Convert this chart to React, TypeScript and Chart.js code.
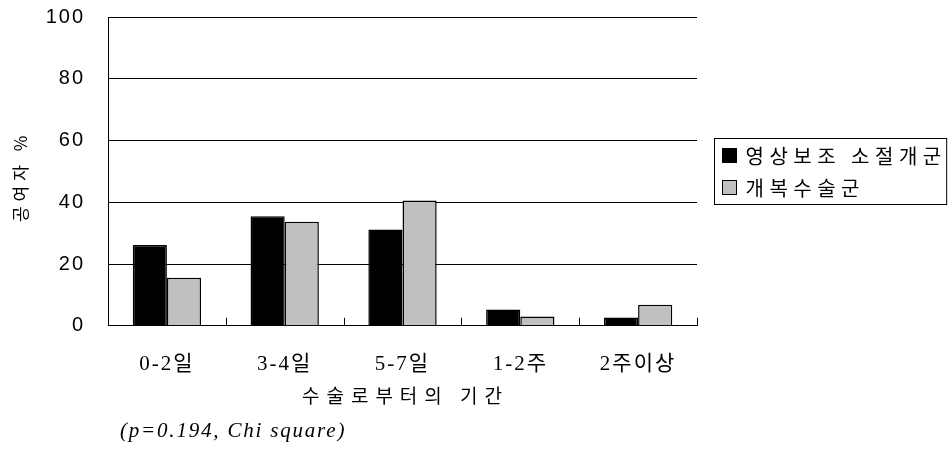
import React, { useEffect, useRef } from "react";
import { Chart, registerables } from "chart.js";

Chart.register(...registerables);

const categories = ["0-2일", "3-4일", "5-7일", "1-2주", "2주이상"];
const seriesNames = ["영상보조 소절개군", "개복수술군"];
const imageAssisted = [26.2, 35.5, 31.2, 5.3, 2.7];
const openSurgery = [15.6, 33.7, 40.6, 3.0, 6.8];
const seriesColors = ["#000000", "#c0c0c0"];
const yTicks = [0, 20, 40, 60, 80, 100];
const yTitle = "공여자 %";
const xTitle = "수술로부터의 기간";
const footnote = "(p=0.194, Chi square)";

const KR = '"Noto Sans CJK KR"';

const decor = {
  id: "decor",
  beforeUpdate(chart: any) {
    chart.ctx.letterSpacing = "2px";
  },
  beforeDraw(chart: any) {
    chart.ctx.letterSpacing = "2px";
  },
  afterDraw(chart: any) {
    const { ctx, chartArea: ca, scales } = chart;
    const xs = scales.x;
    ctx.save();
    ctx.strokeStyle = "#000";
    ctx.lineWidth = 1;
    // inward category separator ticks
    for (let i = 0; i <= categories.length; i++) {
      const px = Math.round(xs.getPixelForValue(i - 0.5)) + 0.5;
      ctx.beginPath();
      ctx.moveTo(px, ca.bottom);
      ctx.lineTo(px, ca.bottom - 8);
      ctx.stroke();
    }
    ctx.fillStyle = "#000";
    // y axis title (rotated)
    ctx.save();
    ctx.letterSpacing = "5px";
    ctx.font = `17px ${KR}`;
    ctx.textAlign = "center";
    ctx.textBaseline = "middle";
    ctx.translate(21, (ca.top + ca.bottom) / 2 + 5);
    ctx.rotate(-Math.PI / 2);
    ctx.fillText(yTitle, 0, 0);
    ctx.restore();
    // x axis title
    ctx.letterSpacing = "7px";
    ctx.font = `19px ${KR}`;
    ctx.textAlign = "center";
    ctx.textBaseline = "middle";
    ctx.fillText(xTitle, (ca.left + ca.right) / 2 + 3, ca.bottom + 70);
    // footnote
    ctx.letterSpacing = "1.8px";
    ctx.font = 'italic 21px "Liberation Serif"';
    ctx.textAlign = "left";
    ctx.fillText(footnote, ca.left + 12, ca.bottom + 106);
    // legend
    ctx.letterSpacing = "5.5px";
    ctx.font = `20px ${KR}`;
    const ds = chart.data.datasets;
    const widths = ds.map((d: any) => ctx.measureText(d.label).width);
    const boxW = 8 + 14 + 8 + Math.max(...widths) + 1;
    const rowH = 32;
    const boxH = rowH * ds.length + 2;
    const bx = Math.round(ca.right + 17) + 0.5;
    const by = Math.round((ca.top + ca.bottom) / 2 - boxH / 2) + 0.5;
    ctx.strokeRect(bx, by, boxW, boxH);
    ds.forEach((d: any, i: number) => {
      const cy = by + 1 + rowH * (i + 0.5);
      ctx.fillStyle = d.backgroundColor;
      ctx.fillRect(bx + 8, cy - 7, 14, 14);
      ctx.strokeRect(bx + 8, cy - 7, 14, 14);
      ctx.fillStyle = "#000";
      ctx.textAlign = "left";
      ctx.textBaseline = "middle";
      ctx.fillText(d.label, bx + 31, cy + 1);
    });
    ctx.restore();
  },
};

export default function App() {
  const ref = useRef<HTMLCanvasElement>(null);
  useEffect(() => {
    if (!ref.current) return;
    const chart = new Chart(ref.current, {
      type: "bar",
      data: {
        labels: categories,
        datasets: [
          {
            label: seriesNames[0],
            data: imageAssisted,
            backgroundColor: seriesColors[0],
            borderColor: "#000",
            borderWidth: 1.5,
            categoryPercentage: 0.58,
            barPercentage: 1,
          },
          {
            label: seriesNames[1],
            data: openSurgery,
            backgroundColor: seriesColors[1],
            borderColor: "#000",
            borderWidth: 1.5,
            categoryPercentage: 0.58,
            barPercentage: 1,
          },
        ],
      },
      options: {
        responsive: false,
        animation: false,
        layout: { padding: { left: 10, right: 253, top: 17, bottom: 55 } },
        plugins: { legend: { display: false }, tooltip: { enabled: false } },
        scales: {
          x: {
            grid: { display: false },
            border: { color: "#000", width: 1 },
            ticks: {
              color: "#000",
              padding: 18,
              font: { family: `"Liberation Serif", ${KR}`, size: 21 },
            },
          },
          y: {
            min: 0,
            max: 100,
            afterBuildTicks: (s: any) => {
              s.ticks = yTicks.map((v) => ({ value: v }));
            },
            afterFit: (s: any) => {
              s.width = 98;
              s.paddingTop = 0;
              s.paddingBottom = 0;
            },
            grid: { color: "#000", drawTicks: false, lineWidth: 1 },
            border: { color: "#000", width: 1 },
            ticks: {
              color: "#000",
              padding: 23,
              font: { family: '"Liberation Sans"', size: 20 },
            },
            title: { display: false },
          },
        },
      },
      plugins: [decor],
    });
    return () => chart.destroy();
  }, []);
  return (
    <div style={{ position: "absolute", left: 0, top: 0, width: 950, height: 450, background: "#fff" }}>
      <canvas ref={ref} width={950} height={450} />
    </div>
  );
}
